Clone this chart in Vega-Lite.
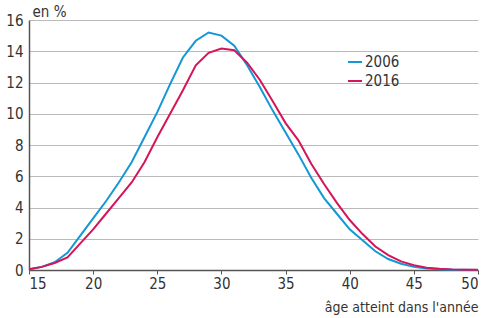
{
  "$schema": "https://vega.github.io/schema/vega-lite/v6.json",
  "autosize": "none",
  "width": 449,
  "height": 250,
  "padding": {"left": 29, "top": 20, "right": 12, "bottom": 48},
  "background": "white",
  "config": {
    "view": {"stroke": null},
    "font": "Liberation Sans Narrow, DejaVu Sans Condensed, sans-serif"
  },
  "data": {
    "values": [
      {"age": 15, "annee": "2006", "valeur": 0.05},
      {"age": 16, "annee": "2006", "valeur": 0.2},
      {"age": 17, "annee": "2006", "valeur": 0.5},
      {"age": 18, "annee": "2006", "valeur": 1.1},
      {"age": 19, "annee": "2006", "valeur": 2.2},
      {"age": 20, "annee": "2006", "valeur": 3.3},
      {"age": 21, "annee": "2006", "valeur": 4.4},
      {"age": 22, "annee": "2006", "valeur": 5.6},
      {"age": 23, "annee": "2006", "valeur": 6.9},
      {"age": 24, "annee": "2006", "valeur": 8.5},
      {"age": 25, "annee": "2006", "valeur": 10.1},
      {"age": 26, "annee": "2006", "valeur": 11.9},
      {"age": 27, "annee": "2006", "valeur": 13.6},
      {"age": 28, "annee": "2006", "valeur": 14.67},
      {"age": 29, "annee": "2006", "valeur": 15.2},
      {"age": 30, "annee": "2006", "valeur": 15.0},
      {"age": 31, "annee": "2006", "valeur": 14.35},
      {"age": 32, "annee": "2006", "valeur": 13.1},
      {"age": 33, "annee": "2006", "valeur": 11.7},
      {"age": 34, "annee": "2006", "valeur": 10.2},
      {"age": 35, "annee": "2006", "valeur": 8.8},
      {"age": 36, "annee": "2006", "valeur": 7.4},
      {"age": 37, "annee": "2006", "valeur": 5.9},
      {"age": 38, "annee": "2006", "valeur": 4.6},
      {"age": 39, "annee": "2006", "valeur": 3.6},
      {"age": 40, "annee": "2006", "valeur": 2.6},
      {"age": 41, "annee": "2006", "valeur": 1.9},
      {"age": 42, "annee": "2006", "valeur": 1.2},
      {"age": 43, "annee": "2006", "valeur": 0.7},
      {"age": 44, "annee": "2006", "valeur": 0.4},
      {"age": 45, "annee": "2006", "valeur": 0.2},
      {"age": 46, "annee": "2006", "valeur": 0.1},
      {"age": 47, "annee": "2006", "valeur": 0.05},
      {"age": 48, "annee": "2006", "valeur": 0.02},
      {"age": 49, "annee": "2006", "valeur": 0.01},
      {"age": 50, "annee": "2006", "valeur": 0.0},
      {"age": 15, "annee": "2016", "valeur": 0.05},
      {"age": 16, "annee": "2016", "valeur": 0.2},
      {"age": 17, "annee": "2016", "valeur": 0.45},
      {"age": 18, "annee": "2016", "valeur": 0.8},
      {"age": 19, "annee": "2016", "valeur": 1.7},
      {"age": 20, "annee": "2016", "valeur": 2.6},
      {"age": 21, "annee": "2016", "valeur": 3.6},
      {"age": 22, "annee": "2016", "valeur": 4.6},
      {"age": 23, "annee": "2016", "valeur": 5.6},
      {"age": 24, "annee": "2016", "valeur": 6.9},
      {"age": 25, "annee": "2016", "valeur": 8.5},
      {"age": 26, "annee": "2016", "valeur": 10.0},
      {"age": 27, "annee": "2016", "valeur": 11.5},
      {"age": 28, "annee": "2016", "valeur": 13.1},
      {"age": 29, "annee": "2016", "valeur": 13.9},
      {"age": 30, "annee": "2016", "valeur": 14.17},
      {"age": 31, "annee": "2016", "valeur": 14.06},
      {"age": 32, "annee": "2016", "valeur": 13.27},
      {"age": 33, "annee": "2016", "valeur": 12.16},
      {"age": 34, "annee": "2016", "valeur": 10.8},
      {"age": 35, "annee": "2016", "valeur": 9.4},
      {"age": 36, "annee": "2016", "valeur": 8.3},
      {"age": 37, "annee": "2016", "valeur": 6.8},
      {"age": 38, "annee": "2016", "valeur": 5.5},
      {"age": 39, "annee": "2016", "valeur": 4.3},
      {"age": 40, "annee": "2016", "valeur": 3.2},
      {"age": 41, "annee": "2016", "valeur": 2.3},
      {"age": 42, "annee": "2016", "valeur": 1.5},
      {"age": 43, "annee": "2016", "valeur": 0.95},
      {"age": 44, "annee": "2016", "valeur": 0.55},
      {"age": 45, "annee": "2016", "valeur": 0.3},
      {"age": 46, "annee": "2016", "valeur": 0.15},
      {"age": 47, "annee": "2016", "valeur": 0.08},
      {"age": 48, "annee": "2016", "valeur": 0.04},
      {"age": 49, "annee": "2016", "valeur": 0.02},
      {"age": 50, "annee": "2016", "valeur": 0.01}
    ]
  },
  "mark": {"type": "line", "strokeWidth": 2, "clip": false},
  "encoding": {
    "x": {
      "field": "age",
      "type": "quantitative",
      "scale": {"domain": [15, 50], "nice": false, "zero": false},
      "axis": {
        "values": [15, 20, 25, 30, 35, 40, 45, 50],
        "grid": false,
        "domainColor": "#555",
        "domainWidth": 1.5,
        "tickColor": "#555",
        "tickSize": 4,
        "labelPadding": 2,
        "labelFontSize": 15,
        "labelColor": "#333",
        "title": "âge atteint dans l'année",
        "titleFontSize": 14,
        "titleFontWeight": "normal",
        "titleColor": "#333",
        "titleAlign": "right",
        "titleAnchor": "end",
        "titleX": 449,
        "titleY": 41,
        "titleBaseline": "alphabetic"
      }
    },
    "y": {
      "field": "valeur",
      "type": "quantitative",
      "scale": {"domain": [0, 16], "nice": false},
      "axis": {
        "values": [0, 2, 4, 6, 8, 10, 12, 14, 16],
        "grid": true,
        "gridColor": "#bbb",
        "gridWidth": 1,
        "ticks": false,
        "domainColor": "#555",
        "domainWidth": 1.5,
        "labelPadding": 6,
        "labelFontSize": 15,
        "labelColor": "#333",
        "title": "en %",
        "titleAngle": 0,
        "titleFontSize": 15,
        "titleFontWeight": "normal",
        "titleColor": "#333",
        "titleAlign": "left",
        "titleX": 3,
        "titleY": -4,
        "titleBaseline": "alphabetic"
      }
    },
    "color": {
      "field": "annee",
      "type": "nominal",
      "scale": {"domain": ["2006", "2016"], "range": ["#1497d5", "#d5145a"]},
      "legend": {
        "title": null,
        "orient": "none",
        "legendX": 318,
        "legendY": 34,
        "symbolType": "stroke",
        "symbolSize": 196,
        "symbolStrokeWidth": 2,
        "labelFontSize": 15,
        "labelColor": "#333",
        "labelOffset": 2,
        "rowPadding": 3
      }
    }
  }
}
